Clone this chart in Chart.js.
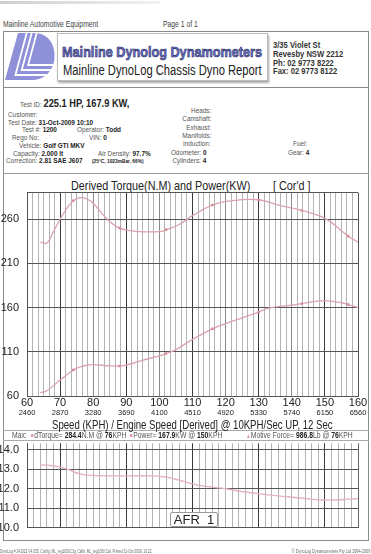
<!DOCTYPE html>
<html>
<head>
<meta charset="utf-8">
<script src="https://cdn.jsdelivr.net/npm/chart.js@4.4.1/dist/chart.umd.min.js"></script>
<style>
  html, body { margin: 0; padding: 0; background: #fff; }
  #page { position: relative; width: 371px; height: 554px; overflow: hidden;
          font-family: "Liberation Sans", Arial, sans-serif; color: #555; }
  .t { position: absolute; white-space: nowrap; line-height: 1; font-size: 8px;
       transform: scaleX(0.8); transform-origin: 0 50%; }
  .r { transform-origin: 100% 50%; text-align: right; }
  .t b { color: #222; }
  .ln { position: absolute; background: #8a8a8a; }
  canvas { position: absolute; left: 0; }
  .sq { display: inline-block; width: 3px; height: 3px; background: #e39aa8; margin-right: 1px; vertical-align: 1px; }
</style>
</head>
<body>
<div id="page">
  <div class="ln" style="left:0;top:1px;width:160px;height:3px;background:linear-gradient(90deg,#cfcfcf,#f2f2f2)"></div>
  <div class="t" style="left:3px;top:19.8px;font-size:8.5px;color:#444">Mainline Automotive Equipment</div>
  <div class="t" style="left:163px;top:19.8px;font-size:8.5px;color:#444">Page 1 of 1</div>

  <!-- frame -->
  <div style="position:absolute;left:3px;top:31px;width:366px;height:510px;border:1px solid #8a8a8a;box-sizing:border-box"></div>
  <div class="ln" style="left:3px;top:87px;width:366px;height:1px"></div>
  <div class="ln" style="left:3px;top:173px;width:366px;height:1px;background:#999"></div>
  <div class="ln" style="left:3px;top:430px;width:366px;height:1px;background:#aaa"></div>
  <div class="ln" style="left:3px;top:440px;width:366px;height:1px;background:#aaa"></div>

  <!-- logo -->
  <svg style="position:absolute;left:5px;top:33px" width="50" height="47" viewBox="0 0 50 47">
    <defs><clipPath id="dclip"><path d="M13,0 L29,0 C43,0 50,11 49.5,24 C49,37 40,47 27,47 L0,47 Z"/></clipPath></defs>
    <path d="M13,0 L29,0 C43,0 50,11 49.5,24 C49,37 40,47 27,47 L0,47 Z" fill="#8e91d8"/>
    <g clip-path="url(#dclip)" fill="none" stroke="#fff" stroke-width="1.8">
      <path d="M22,-1 L10.4,42 L60,42"/>
      <path d="M27,-1 L16.7,37 L60,37"/>
      <path d="M32,-1 L23.1,32 L60,32"/>
    </g>
  </svg>

  <div style="position:absolute;left:57px;top:33px;width:211px;height:48px;border:1px solid #bbb;box-sizing:border-box;background:#fff;box-shadow:1px 2px 2px rgba(0,0,0,0.35)"></div>
  <div class="t" style="left:62px;top:44.2px;font-size:15px;font-weight:bold;color:#6c71cc;-webkit-text-stroke:0.6px #262a58;transform:scaleX(0.845)">Mainline Dynolog Dynamometers</div>
  <div class="t" style="left:63px;top:63px;font-size:14px;color:#222">Mainline DynoLog Chassis Dyno Report</div>

  <div class="t" style="left:273px;top:39.5px;font-size:9.5px;font-weight:bold;color:#333">3/35 Violet St</div>
  <div class="t" style="left:273px;top:48.5px;font-size:9.5px;font-weight:bold;color:#333">Revesby NSW 2212</div>
  <div class="t" style="left:273px;top:57.5px;font-size:9.5px;font-weight:bold;color:#333">Ph: 02 9773 8222</div>
  <div class="t" style="left:273px;top:66.3px;font-size:9.5px;font-weight:bold;color:#333">Fax: 02 9773 8122</div>

  <!-- info -->
  <div class="t" style="left:20px;top:97px">Test ID: <b style="font-size:11.6px">225.1 HP, 167.9 KW,</b></div>
  <div class="t" style="left:8px;top:111px">Customer:</div>
  <div class="t" style="left:8px;top:118.7px">Test Date: <b>31-Oct-2009 10:10</b></div>
  <div class="t" style="left:21.7px;top:126.3px">Test #: <b>1200</b></div>
  <div class="t" style="left:77px;top:126.3px">Operator: <b>Todd</b></div>
  <div class="t" style="left:11.7px;top:134.3px">Rego No:</div>
  <div class="t" style="left:89px;top:134.3px">VIN: <b>0</b></div>
  <div class="t" style="left:19px;top:142px">Vehicle: <b>Golf GTI MKV</b></div>
  <div class="t" style="left:13px;top:149.7px">Capacity: <b>2.000 lt</b></div>
  <div class="t" style="left:98px;top:149.7px">Air Density: <b>97.7%</b></div>
  <div class="t" style="left:6px;top:157px">Correction: <b>2.81 SAE J607</b></div>
  <div class="t" style="left:92px;top:158px;font-size:6px"><b>(25°C, 1023mBar, 66%)</b></div>

  <div class="t r" style="right:160px;top:107px">Heads:</div>
  <div class="t r" style="right:160px;top:115.3px">Camshaft:</div>
  <div class="t r" style="right:160px;top:123.7px">Exhaust:</div>
  <div class="t r" style="right:160px;top:132px">Manifolds:</div>
  <div class="t r" style="right:160px;top:140.3px">Induction:</div>
  <div class="t r" style="right:165px;top:148.7px">Odometer: <b>0</b></div>
  <div class="t r" style="right:165px;top:157px">Cylinders: <b>4</b></div>
  <div class="t" style="left:293px;top:140.3px">Fuel:</div>
  <div class="t" style="left:288px;top:148.7px">Gear: <b>4</b></div>

  <!-- main chart -->
  <div class="t" style="left:71px;top:178.8px;font-size:13.5px;color:#222">Derived Torque(N.M) and Power(KW)</div>
  <div class="t" style="left:273px;top:178.8px;font-size:13.5px;color:#222">[ Cor'd ]</div>
  <canvas id="main" width="371" height="240" style="top:188px"></canvas>
  <div class="t" style="left:52px;top:418.5px;font-size:12px;color:#222">Speed (KPH) / Engine Speed [Derived] @ 10KPH/Sec UP, 12 Sec</div>

  <div class="t" style="left:12px;top:431px;font-size:8.5px">Max:</div>
  <div class="t" style="left:31px;top:431px;font-size:8.5px"><span class="sq"></span>dTorque= <b>284.4</b>N.M @ <b>76</b>KPH</div>
  <div class="t" style="left:130px;top:431px;font-size:8.5px"><span class="sq"></span>Power= <b>167.9</b>KW @ <b>150</b>KPH</div>
  <div class="t" style="left:246px;top:431px;font-size:8.5px"><span style="color:#e39aa8;font-size:6px">▲</span>Motive Force= <b>986.8</b>Lb @ <b>76</b>KPH</div>

  <!-- AFR chart -->
  <canvas id="afr" width="371" height="95" style="top:440px"></canvas>
  <div style="position:absolute;left:170px;top:512px;width:48px;height:15px;background:#fff;border:1px solid #999;box-sizing:border-box;border-radius:2px;font-size:13px;line-height:13px;text-align:center;color:#222">AFR&nbsp; 1</div>

  <div class="t" style="left:0;top:550px;font-size:4.5px;color:#666;transform:scaleX(0.72)">DynoLog # 241022 V4.035, Config: ML_reg1000.Cfg, Calib: ML_reg1000.Cal, Printed 31-Oct-2009, 10:22</div>
  <div class="t r" style="right:1px;top:550px;font-size:4.5px;color:#666;transform:scaleX(0.85)">© DynoLog Dynamometers Pty Ltd 1994-2009</div>
</div>

<script>
// axis labels
const speedKph = [60, 70, 80, 90, 100, 110, 120, 130, 140, 150, 160];
const engineRpm = [2460, 2870, 3280, 3690, 4100, 4510, 4920, 5330, 5740, 6150, 6560];
const torqueTicks = [60, 110, 160, 210, 260, 290];

// derived torque (N.M)
const torqueKph = [64, 66, 68, 70, 72, 74, 76, 78, 80, 84, 88, 94, 100, 102, 106, 110, 116, 122, 130, 136, 143, 150, 157, 160];
const torqueNm = [234, 233, 246, 260, 272, 281, 284.4, 283, 278, 261, 250, 246, 246, 248, 254, 264, 276, 281, 282, 276, 270, 261, 241, 234];

// power (KW)
const powerKph = [64, 66, 70, 74, 76, 78, 80, 85, 88, 90, 95, 100, 102, 105, 110, 116, 120, 125, 130, 133, 140, 143, 146, 150, 155, 157, 160];
const powerKw = [63.8, 66, 78, 89.5, 92.8, 94.8, 95.6, 94, 94, 94.8, 100.5, 105.5, 108, 112.5, 124, 136, 142, 148.5, 155, 159.5, 162.8, 164.5, 166.4, 167.9, 165.5, 163.5, 160];

// air fuel ratio
const afrKph = [64, 68, 72, 76, 80, 86, 92, 98, 102, 106, 110, 114, 120, 126, 132, 138, 144, 150, 156, 160];
const afrRatio = [13.22, 13.18, 13.02, 12.76, 12.68, 12.66, 12.66, 12.66, 12.6, 12.44, 12.25, 12.12, 12.0, 11.83, 11.7, 11.6, 11.5, 11.42, 11.45, 11.5];

const markKph = [74, 88, 102, 116, 130, 143, 157];

Chart.defaults.font.family = '"Liberation Sans", Arial, sans-serif';

const lineCol = '#daa3ad';
const markCol = '#d48c99';

function isMajor(v) {
    const r = Math.round(v);
    return Math.abs(v - r) < 0.01 && r % 10 === 0;
}
function speedGrid(v) {
    if (!isMajor(v)) return '#b3b3b3';
    const r = Math.round(v);
    if ((r - 70) % 20 === 0) return '#3a3a3a';
    return (r === 60 || r === 160) ? '#555' : '#8a8a8a';
}
function pts(xs, ys) {
    return xs.map((x, i) => ({ x: x, y: ys[i] }));
}
// keep the plot box where it is in the report: no extra room for edge labels
function noPadY(width) {
    return s => { s.width = width; s.paddingTop = 0; s.paddingBottom = 0; };
}
function noPadX(height) {
    return s => { s.height = height; s.paddingLeft = 0; s.paddingRight = 0; };
}

new Chart(document.getElementById('main'), {
    type: 'line',
    data: {
        datasets: [{
            label: 'dTorque',
            data: pts(torqueKph, torqueNm),
            borderColor: lineCol,
            borderWidth: 1.3,
            tension: 0.4,
            pointStyle: 'rect',
            pointRadius: ctx => markKph.includes(ctx.raw.x) ? 1.7 : 0,
            pointBackgroundColor: markCol,
            pointBorderWidth: 0
        }, {
            label: 'Power',
            data: pts(powerKph, powerKw),
            borderColor: lineCol,
            borderWidth: 1.3,
            tension: 0.4,
            pointStyle: 'rect',
            pointRadius: ctx => markKph.includes(ctx.raw.x) ? 1.7 : 0,
            pointBackgroundColor: markCol,
            pointBorderWidth: 0
        }]
    },
    options: {
        responsive: false,
        animation: false,
        devicePixelRatio: 1,
        layout: { padding: { top: 4.7, right: 13, left: 0, bottom: 0 } },
        plugins: { legend: { display: false }, tooltip: { enabled: false } },
        scales: {
            x: {
                type: 'linear', min: 60, max: 160, position: 'bottom', weight: 0,
                afterBuildTicks: s => {
                    s.ticks = [];
                    for (let k = 0; k <= 60; k++) s.ticks.push({ value: 60 + k * 10 / 6 });
                },
                afterFit: noPadX(12),
                grid: { drawTicks: false, color: ctx => speedGrid(ctx.tick.value), lineWidth: 1 },
                border: { color: '#555' },
                ticks: {
                    autoSkip: false, maxRotation: 0, padding: 0,
                    font: { size: 11 }, color: '#222',
                    callback: v => isMajor(v) ? Math.round(v) : ''
                }
            },
            rpm: {
                type: 'linear', min: 60, max: 160, position: 'bottom', weight: 1,
                afterBuildTicks: s => { s.ticks = speedKph.map(v => ({ value: v })); },
                afterFit: noPadX(20),
                grid: { display: false, drawTicks: false },
                border: { display: false },
                ticks: {
                    autoSkip: false, maxRotation: 0, padding: 0.5,
                    font: { size: 7.5 }, color: '#222',
                    callback: v => engineRpm[speedKph.indexOf(v)]
                }
            },
            y: {
                type: 'linear', min: 60, max: 290,
                afterBuildTicks: s => { s.ticks = torqueTicks.map(v => ({ value: v })); },
                afterFit: noPadY(27),
                grid: { drawTicks: false, color: '#555' },
                border: { color: '#555' },
                ticks: { padding: 8, font: { size: 11 }, color: '#222', callback: v => v === 290 ? '' : v }
            }
        }
    }
});

new Chart(document.getElementById('afr'), {
    type: 'line',
    data: {
        datasets: [{
            label: 'AFR 1',
            data: pts(afrKph, afrRatio),
            borderColor: '#e2b3bd',
            borderWidth: 1.4,
            tension: 0.4,
            pointRadius: 0
        }]
    },
    options: {
        responsive: false,
        animation: false,
        devicePixelRatio: 1,
        layout: { padding: { top: 3.3, right: 13, left: 0, bottom: 7.3 } },
        plugins: { legend: { display: false }, tooltip: { enabled: false } },
        scales: {
            x: {
                type: 'linear', min: 60, max: 160,
                afterBuildTicks: s => {
                    s.ticks = [];
                    for (let v = 60; v <= 160; v += 2) s.ticks.push({ value: v });
                },
                afterFit: noPadX(0),
                grid: {
                    drawTicks: false,
                    color: ctx => {
                        const v = ctx.tick.value;
                        if (v === 60 || v === 160) return '#666';
                        return (v - 70) % 20 === 0 ? '#3a3a3a' : '#b3b3b3';
                    }
                },
                border: { color: '#555' },
                ticks: { display: false }
            },
            y: {
                type: 'linear', min: 10, max: 14 + 1 / 3,
                afterBuildTicks: s => {
                    s.ticks = [];
                    for (let k = 0; k <= 13; k++) s.ticks.push({ value: 10 + k / 3 });
                },
                afterFit: noPadY(27),
                grid: {
                    drawTicks: false,
                    color: ctx => {
                        const v = ctx.tick.value;
                        return Math.abs(v - Math.round(v)) < 0.01 ? '#555' : '#b3b3b3';
                    }
                },
                border: { color: '#555' },
                ticks: {
                    padding: 8, font: { size: 11 }, color: '#222',
                    callback: v => Math.abs(v - Math.round(v)) < 0.01 ? Math.round(v).toFixed(1) : ''
                }
            }
        }
    }
});
</script>
</body>
</html>
